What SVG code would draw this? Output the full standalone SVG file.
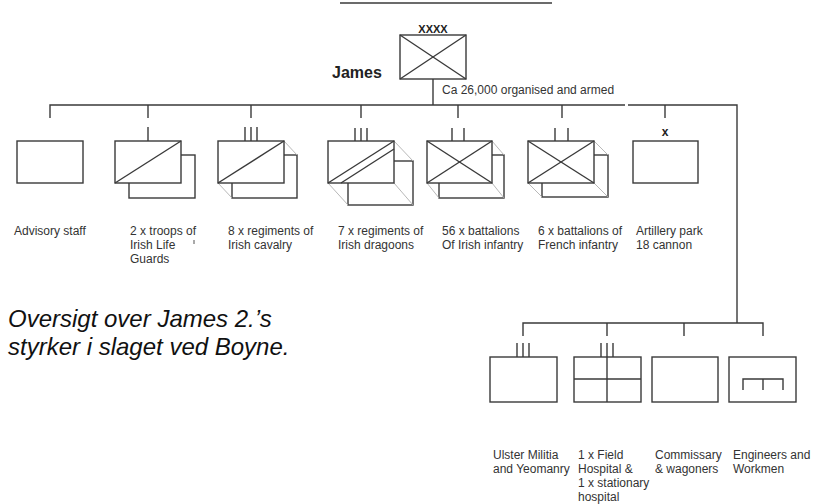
<svg xmlns="http://www.w3.org/2000/svg" width="827" height="504" viewBox="0 0 827 504">
<style>
.ln{stroke:#3a3a3a;stroke-width:1.4;fill:none}
.bx{stroke:#3a3a3a;stroke-width:1.4;fill:#fff}
.gr{stroke:#b0b0b0;stroke-width:0.9;fill:none}
.t{font-family:"Liberation Sans",Arial,sans-serif;font-size:12px;fill:#333}
.it{font-family:"Liberation Sans",Arial,sans-serif;font-size:24px;font-style:italic;fill:#111}
</style>
<rect width="827" height="504" fill="#fff"/>
<line x1="340" y1="3" x2="552" y2="3" class="ln" stroke-width="1.6"/>

<g id="connectors">
<line x1="433" y1="79" x2="433" y2="105" class="ln"/>
<polyline points="50,118 50,105 625,105" class="ln"/>
<polyline points="628,105 737,105 737,323" class="ln"/>
<line x1="148" y1="105" x2="148" y2="118" class="ln"/>
<line x1="251" y1="105" x2="251" y2="118" class="ln"/>
<line x1="361" y1="105" x2="361" y2="118" class="ln"/>
<line x1="458" y1="105" x2="458" y2="118" class="ln"/>
<line x1="562" y1="105" x2="562" y2="118" class="ln"/>
<line x1="665" y1="105" x2="665" y2="118" class="ln"/>
<polyline points="523,336 523,323 763,323 763,336" class="ln"/>
<line x1="607" y1="323" x2="607" y2="336" class="ln"/>
<line x1="684" y1="323" x2="684" y2="336" class="ln"/>
</g>

<g id="james">
<rect x="400" y="35" width="66" height="44" class="bx"/>
<line x1="400" y1="35" x2="466" y2="79" class="ln"/>
<line x1="466" y1="35" x2="400" y2="79" class="ln"/>
<text x="433" y="33" text-anchor="middle" style="font-family:'Liberation Sans',Arial,sans-serif;font-size:11px;font-weight:bold;fill:#222">XXXX</text>
<text x="332" y="78" style="font-family:'Liberation Sans',Arial,sans-serif;font-size:16px;font-weight:bold;fill:#222">James</text>
<text x="442" y="94" class="t">Ca 26,000 organised and armed</text>
</g>

<g id="advisory">
<rect x="17" y="141" width="66" height="42" class="bx"/>
<text x="14" y="235" class="t">Advisory staff</text>
</g>

<g id="lifeguards">
<rect x="129" y="155" width="66" height="43" class="bx"/>
<rect x="115" y="141" width="66" height="42" class="bx"/>
<line x1="115" y1="183" x2="181" y2="141" class="ln"/>
<line x1="148" y1="127" x2="148" y2="141" class="ln"/>
<text class="t"><tspan x="130" y="235">2 x troops of</tspan><tspan x="130" y="249">Irish Life</tspan><tspan x="130" y="263">Guards</tspan></text>
<line x1="194" y1="240" x2="194" y2="244" stroke="#555" stroke-width="1"/>
</g>

<g id="cavalry">
<rect x="232" y="155" width="65" height="43" class="bx"/>
<line x1="218" y1="183" x2="232" y2="198" class="gr"/>
<line x1="284" y1="141" x2="297" y2="155" class="gr"/>
<rect x="218" y="141" width="66" height="42" class="bx"/>
<line x1="218" y1="183" x2="284" y2="141" class="ln"/>
<line x1="245" y1="127" x2="245" y2="141" class="ln"/>
<line x1="251" y1="127" x2="251" y2="141" class="ln"/>
<line x1="257" y1="127" x2="257" y2="141" class="ln"/>
<text class="t"><tspan x="228" y="235">8 x regiments of</tspan><tspan x="228" y="249">Irish cavalry</tspan></text>
</g>

<g id="dragoons">
<rect x="348" y="161" width="65" height="44" class="bx"/>
<line x1="328" y1="183" x2="348" y2="205" class="gr"/>
<line x1="394" y1="141" x2="413" y2="161" class="gr"/>
<line x1="394" y1="183" x2="413" y2="205" class="gr"/>
<rect x="328" y="141" width="66" height="42" class="bx"/>
<line x1="328" y1="183" x2="394" y2="141" class="ln"/>
<line x1="341" y1="183" x2="394" y2="149" class="ln"/>
<line x1="355" y1="128" x2="355" y2="141" class="ln"/>
<line x1="361" y1="128" x2="361" y2="141" class="ln"/>
<line x1="367" y1="128" x2="367" y2="141" class="ln"/>
<text class="t"><tspan x="338" y="235">7 x regiments of</tspan><tspan x="338" y="249">Irish dragoons</tspan></text>
</g>

<g id="irish-infantry">
<rect x="439" y="155" width="65" height="43" class="bx"/>
<line x1="427" y1="183" x2="439" y2="198" class="gr"/>
<line x1="492" y1="141" x2="504" y2="155" class="gr"/>
<line x1="492" y1="183" x2="504" y2="198" class="gr"/>
<rect x="427" y="141" width="65" height="42" class="bx"/>
<line x1="427" y1="141" x2="492" y2="183" class="ln"/>
<line x1="492" y1="141" x2="427" y2="183" class="ln"/>
<line x1="452" y1="128" x2="452" y2="141" class="ln"/>
<line x1="464" y1="128" x2="464" y2="141" class="ln"/>
<text class="t"><tspan x="442" y="235">56 x battalions</tspan><tspan x="442" y="249">Of Irish infantry</tspan></text>
</g>

<g id="french-infantry">
<rect x="542" y="155" width="66" height="42" class="bx"/>
<line x1="528" y1="183" x2="542" y2="197" class="gr"/>
<line x1="594" y1="141" x2="608" y2="155" class="gr"/>
<line x1="594" y1="183" x2="608" y2="197" class="gr"/>
<rect x="528" y="141" width="66" height="42" class="bx"/>
<line x1="528" y1="141" x2="594" y2="183" class="ln"/>
<line x1="594" y1="141" x2="528" y2="183" class="ln"/>
<line x1="555" y1="128" x2="555" y2="141" class="ln"/>
<line x1="568" y1="128" x2="568" y2="141" class="ln"/>
<text class="t"><tspan x="538" y="235">6 x battalions of</tspan><tspan x="538" y="249">French infantry</tspan></text>
</g>

<g id="artillery">
<rect x="633" y="141" width="65" height="42" class="bx"/>
<text x="665" y="136" text-anchor="middle" style="font-family:'Liberation Sans',Arial,sans-serif;font-size:12px;font-weight:bold;fill:#222">x</text>
<text class="t"><tspan x="636" y="235">Artillery park</tspan><tspan x="636" y="249">18 cannon</tspan></text>
</g>

<g id="ulster">
<rect x="490" y="357" width="67" height="45" class="bx"/>
<line x1="517" y1="343" x2="517" y2="357" class="ln"/>
<line x1="523" y1="343" x2="523" y2="357" class="ln"/>
<line x1="529" y1="343" x2="529" y2="357" class="ln"/>
<text class="t"><tspan x="493" y="459">Ulster Militia</tspan><tspan x="493" y="473">and Yeomanry</tspan></text>
</g>

<g id="hospital">
<rect x="574" y="357" width="67" height="45" class="bx"/>
<line x1="607" y1="357" x2="607" y2="402" class="ln"/>
<line x1="574" y1="379" x2="641" y2="379" class="ln"/>
<line x1="601" y1="343" x2="601" y2="357" class="ln"/>
<line x1="607" y1="343" x2="607" y2="357" class="ln"/>
<line x1="613" y1="343" x2="613" y2="357" class="ln"/>
<text class="t"><tspan x="578" y="459">1 x Field</tspan><tspan x="578" y="473">Hospital &amp;</tspan><tspan x="578" y="487">1 x stationary</tspan><tspan x="578" y="501">hospital</tspan></text>
</g>

<g id="commissary">
<rect x="652" y="357" width="66" height="45" class="bx"/>
<text class="t"><tspan x="655" y="459">Commissary</tspan><tspan x="655" y="473">&amp; wagoners</tspan></text>
</g>

<g id="engineers">
<rect x="729" y="357" width="67" height="45" class="bx"/>
<polyline points="743,390 743,379 783,379 783,390" class="ln"/>
<line x1="763" y1="379" x2="763" y2="390" class="ln"/>
<text class="t"><tspan x="733" y="459">Engineers and</tspan><tspan x="733" y="473">Workmen</tspan></text>
</g>

<text class="it"><tspan x="8" y="327">Oversigt over James 2.’s</tspan><tspan x="8" y="355">styrker i slaget ved Boyne.</tspan></text>
</svg>
